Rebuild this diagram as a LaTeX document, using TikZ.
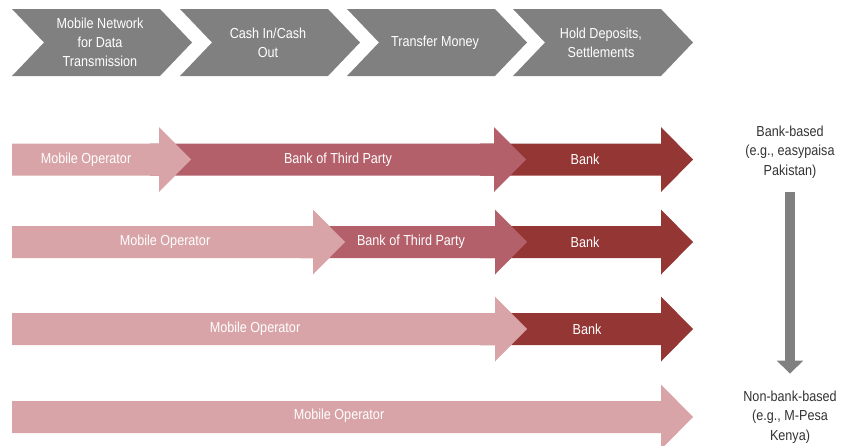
\documentclass[tikz,border=0pt]{standalone}
\usepackage{fontspec}
\setmainfont{Liberation Sans}[FakeStretch=0.87]
\usetikzlibrary{arrows.meta,positioning}
\definecolor{opPink}{HTML}{D9A4A8}
\definecolor{thirdRose}{HTML}{B4606B}
\definecolor{bankRed}{HTML}{943634}
\definecolor{stageGray}{HTML}{808080}
\tikzset{>=latex}
\tikzset{%
    stage/.style={text=white, align=center, font=\fontsize{14.5}{19}\selectfont},%
    flowtext/.style={text=white, font=\fontsize{14.5}{19}\selectfont},%
    side/.style={text=black!80, align=center, inner sep=0pt, font=\fontsize{14.5}{19.5}\selectfont}%
}
% chevron of the top bar: left x, name, text
\newcommand{\stagebox}[3]{%
    \fill[stageGray] (#1,9) -- ++(148,0) -- ++(32,33.5) -- ++(-32,33.5) -- ++(-148,0) -- ++(32,-33.5) -- cycle;
    \node[stage] (#2) at (#1+88,42.5) {#3};
}
% block arrow: colour, start x, tip x, centre y
\newcommand{\flowarrow}[4]{%
    \fill[#1] (#2,#4-16) -- (#3-32,#4-16) -- (#3-32,#4-32.5) -- (#3,#4)
        -- (#3-32,#4+32.5) -- (#3-32,#4+16) -- (#2,#4+16) -- cycle;
}

\begin{document}
\begin{tikzpicture}[x=1pt,y=-1pt]
      \useasboundingbox (0,0) rectangle (842,445);
      \clip (0,0) rectangle (842,445);
      % stages
      \stagebox{12}{net}{Mobile Network\\for Data\\Transmission}
      \stagebox{180}{cash}{Cash In/Cash\\Out}
      \stagebox{347}{transfer}{Transfer Money}
      \stagebox{513}{hold}{Hold Deposits,\\Settlements}
      % row 1
      \flowarrow{bankRed}{480}{693}{159.5}
      \flowarrow{thirdRose}{150}{526}{159.5}
      \flowarrow{opPink}{12}{191}{159.5}
      \node[flowtext] (op1) at (86,159.5) {Mobile Operator};
      \node[flowtext] (third1) at (338,159.5) {Bank of Third Party};
      \node[flowtext] (bank1) at (585,159.5) {Bank};
      % row 2
      \flowarrow{bankRed}{480}{693}{242}
      \flowarrow{thirdRose}{300}{527}{242}
      \flowarrow{opPink}{12}{345}{242}
      \node[flowtext] (op2) at (165,242) {Mobile Operator};
      \node[flowtext] (third2) at (411,242) {Bank of Third Party};
      \node[flowtext] (bank2) at (585,242) {Bank};
      % row 3
      \flowarrow{bankRed}{480}{693}{329}
      \flowarrow{opPink}{12}{527}{329}
      \node[flowtext] (op3) at (255,329) {Mobile Operator};
      \node[flowtext] (bank3) at (587,329) {Bank};
      % row 4
      \flowarrow{opPink}{12}{693}{417}
      \node[flowtext] (op4) at (339,416) {Mobile Operator};
      % models
      \node[side] (bankbased) at (790,152) {Bank-based\\(e.g., easypaisa\\Pakistan)};
      \node[side] (nonbank) at (790,417) {Non-bank-based\\(e.g., M-Pesa\\Kenya)};
      \draw[stageGray, line width=10pt, -{Triangle[width=26pt,length=13pt]},
            shorten <=14pt, shorten >=17pt] (bankbased) -- (nonbank);
    \end{tikzpicture}
\end{document}
